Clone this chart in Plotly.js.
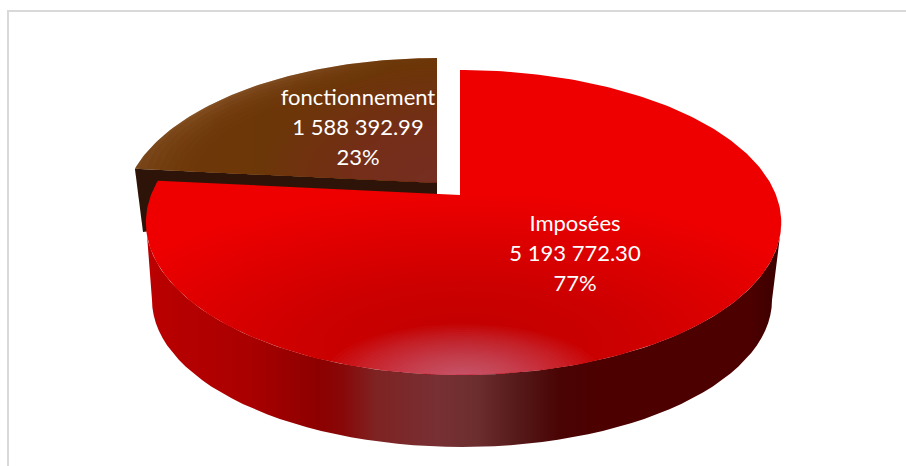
<!DOCTYPE html>
<html>
<head>
<meta charset="utf-8">
<script src="https://cdn.plot.ly/plotly-3.0.1.min.js"></script>
<style>html,body{margin:0;padding:0;background:#fff}#c{width:906px;height:466px}</style>
</head>
<body>
<div id="c"></div>
<script>
const categories = ["Imposées", "fonctionnement"];
const values = [5193772.30, 1588392.99];
const valueLabels = ["5 193 772.30", "1 588 392.99"];
const percentLabels = ["77%", "23%"];

const total = values[0] + values[1];
const sweep = values[0] / total * 360;

// oblique view of the pie disc, in the axis units of the picture
const apexX = 460, apexY = 195, persp = 5.545, yGain = 818, aR = 316, aL = 309;
function proj(deg, r, dx, dy) {
  const t = deg * Math.PI / 180, u = r * Math.sin(t), v = -r * Math.cos(t);
  const s = persp / (persp - v);
  return [apexX + dx + (u > 0 ? aR : aL) * u * s, apexY + dy + yGain * v / (persp - v)];
}
function arc(from, to, r, dx, dy) {
  const n = Math.max(2, Math.ceil(Math.abs(to - from))), out = [];
  for (let i = 0; i <= n; i++) out.push(proj(from + (to - from) * i / n, r, dx, dy));
  return out;
}
function ellipse(cx, cy, rx, ry) {
  const out = [];
  for (let i = 0; i < 360; i += 3) {
    const t = i * Math.PI / 180;
    out.push([cx + rx * Math.cos(t), cy + ry * Math.sin(t)]);
  }
  return out;
}
function clip(poly, conv) {
  let c = [0, 0];
  conv.forEach(p => { c[0] += p[0] / conv.length; c[1] += p[1] / conv.length; });
  let out = poly;
  for (let i = 0; i < conv.length; i++) {
    const a = conv[i], b = conv[(i + 1) % conv.length];
    const side = p => (b[0] - a[0]) * (p[1] - a[1]) - (b[1] - a[1]) * (p[0] - a[0]);
    const sign = side(c) >= 0 ? 1 : -1;
    const inp = out; out = [];
    for (let j = 0; j < inp.length; j++) {
      const p = inp[j], q = inp[(j + 1) % inp.length];
      const sp = side(p) * sign, sq = side(q) * sign;
      if (sp >= 0) out.push(p);
      if ((sp >= 0) !== (sq >= 0)) {
        const k = sp / (sp - sq);
        out.push([p[0] + (q[0] - p[0]) * k, p[1] + (q[1] - p[1]) * k]);
      }
    }
    if (!out.length) break;
  }
  return out;
}
function poly(pts, extra) {
  const xs = pts.map(p => p[0]), ys = pts.map(p => p[1]);
  xs.push(xs[0]); ys.push(ys[0]);
  return Object.assign({x: xs, y: ys, type: 'scatter', mode: 'lines', fill: 'toself',
    line: {width: 0}, hoverinfo: 'skip', showlegend: false}, extra);
}

const traces = [];
const brownDx = -23, brownDy = -12;

// exploded slice
const brownArc = arc(sweep, 360, 1, brownDx, brownDy);
const brownFace = [[apexX + brownDx, apexY + brownDy]].concat(brownArc);
const corner = brownArc[0];
traces.push(poly([corner, [apexX + brownDx, apexY + brownDy], [apexX + brownDx, apexY], [143, 232]], {fillcolor: '#2e1308'}));
traces.push(poly(brownFace, {fillgradient: {type: 'horizontal', start: 135, stop: 437,
  colorscale: [[0, '#7d4c20'], [0.2, '#99683c'], [0.5, '#8c5a30'], [0.85, '#6e3a0c'], [1, '#6e380a']]}}));
for (let i = 0; i < 10; i++) {
  const k = 0.985 - i * 0.022;
  traces.push(poly(clip(ellipse(apexX + brownDx, apexY + brownDy, 311 * k, 128 * k), brownFace),
    {fillcolor: 'rgba(107,56,8,0.26)'}));
}
for (let i = 0; i < 16; i++) {
  const t = 1 - i / 16;
  traces.push(poly(clip(ellipse(apexX + brownDx, apexY + brownDy, 175 * t, 115 * t), brownFace),
    {fillcolor: 'rgba(128,40,60,0.045)'}));
}

// side wall of the large slice
const frontTop = arc(90 + 10, 270 - 8, 1, 0, 0);
const lower = ellipse(462, 300, 310, 147).filter(p => p[1] >= 300).sort((a, b) => a[0] - b[0]);
traces.push(poly([[781, 228]].concat(frontTop, [[146, 222]], lower, [[772, 300]]), {
  fillgradient: {type: 'horizontal', start: 146, stop: 781, colorscale: [
    [0, '#bb0000'], [0.16, '#aa0000'], [0.27, '#8d0000'], [0.31, '#880808'], [0.36, '#7f2222'],
    [0.46, '#773034'], [0.52, '#6c2e2e'], [0.59, '#551818'], [0.65, '#4a0404'], [0.72, '#4d0000'], [0.95, '#4d0000'], [1, '#3a0000']]}
}));

// top face of the large slice
const faceAll = arc(0, 360, 1, 0, 0).slice(0, -1);
traces.push(poly([[apexX, apexY]].concat(arc(0, sweep, 1, 0, 0)), {fillcolor: '#ee0000'}));
for (let i = 0; i < 28; i++) {
  const t = 1 - i / 28;
  traces.push(poly(clip(ellipse(463, 345, 390 * t, 150 * t), faceAll), {fillcolor: 'rgba(140,0,0,0.019)'}));
}
for (let i = 0; i < 28; i++) {
  const t = 1 - i / 28;
  traces.push(poly(clip(ellipse(463, 378, 140 * t, 54 * t), faceAll), {fillcolor: 'rgba(215,170,190,0.032)'}));
}

// data labels
function labelTrace(i, cx, ys) {
  return {x: [cx, cx, cx], y: ys, type: 'scatter', mode: 'text', textposition: 'middle center',
    text: [categories[i], valueLabels[i], percentLabels[i]],
    textfont: {family: 'Lato, "Open Sans", sans-serif', size: 22, color: '#ffffff'},
    hoverinfo: 'skip', showlegend: false, cliponaxis: false};
}
traces.push(labelTrace(0, 575, [225, 255, 285]));
traces.push(labelTrace(1, 358, [99, 129, 159]));

Plotly.newPlot('c', traces, {
  width: 906, height: 466,
  margin: {l: 0, r: 0, t: 0, b: 0},
  paper_bgcolor: '#ffffff', plot_bgcolor: '#ffffff',
  showlegend: false,
  xaxis: {range: [0, 906], visible: false, fixedrange: true},
  yaxis: {range: [466, 0], visible: false, fixedrange: true},
  shapes: [
    {type: 'line', xref: 'x', yref: 'y', x0: 8, y0: 11, x1: 906, y1: 11, line: {color: '#d9d9d9', width: 2}},
    {type: 'line', xref: 'x', yref: 'y', x0: 8, y0: 10, x1: 8, y1: 466, line: {color: '#d9d9d9', width: 2}}
  ]
}, {staticPlot: true, displayModeBar: false});
</script>
</body>
</html>
